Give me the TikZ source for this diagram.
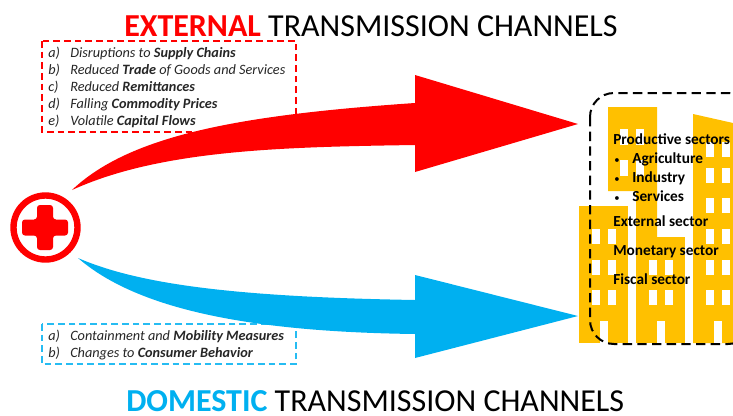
\documentclass[tikz,border=0pt]{standalone}
\usepackage{fontspec}
\setmainfont{Carlito}
\definecolor{bred}{RGB}{255,0,0}
\definecolor{bblue}{RGB}{0,176,240}
\definecolor{bgold}{RGB}{255,192,0}
\newcommand{\winrow}[3]{\foreach \wx in {#1} {\fill[white] (\wx,#2) rectangle ++(8,#3);}}
\tikzset{
  titletext/.style={anchor=base west,inner sep=0pt,font=\fontsize{24}{29}\selectfont},
  listtext/.style={anchor=base west,inner sep=0pt,font=\fontsize{10.7}{12}\selectfont\itshape,text=black!85},
  sectortext/.style={anchor=base west,inner sep=0pt,font=\fontsize{11.5}{13}\selectfont\bfseries},
  bullettext/.style={anchor=base west,inner sep=0pt,font=\fontsize{8}{10}\selectfont},
  dashbox/.style={line width=1.3pt,dash pattern=on 5pt off 3pt},
}
\begin{document}
\begin{tikzpicture}[x=0.75pt,y=-0.75pt]
\clip (0,0) rectangle (733,415);
\fill[white] (0,0) rectangle (733,415);
% titles
\node[titletext] (t1) at (124,36) {\textcolor{bred}{\textbf{EXTERNAL}} TRANSMISSION CHANNELS};
\node[titletext] (t2) at (126,411) {\textcolor{bblue}{\textbf{DOMESTIC}} TRANSMISSION CHANNELS};
% list boxes
\draw[bred,dashbox] (42,41) rectangle (296,132);
\draw[bblue!85!white,dashbox] (42,324) rectangle (296,364);
\foreach \n/\y/\l/\t in {
  a/57/a)/{Disruptions to \textbf{Supply Chains}},
  b/74/b)/{Reduced \textbf{Trade} of Goods and Services},
  c/91/c)/{Reduced \textbf{Remittances}},
  d/108/d)/{Falling \textbf{Commodity Prices}},
  e/125/e)/{Volatile \textbf{Capital Flows}}} {
  \node[listtext] (rl\n) at (48,\y) {\l};
  \node[listtext] (rt\n) at (70,\y) {\t};
}
\foreach \n/\y/\l/\t in {
  a/340/a)/{Containment and \textbf{Mobility Measures}},
  b/357/b)/{Changes to \textbf{Consumer Behavior}}} {
  \node[listtext] (bl\n) at (48,\y) {\l};
  \node[listtext] (bt\n) at (70,\y) {\t};
}
% red arrow
\fill[bred] (72,190) .. controls (130,135) and (240,115) .. (415,103)
  -- (415,75) -- (578,124) -- (415,172) -- (415,145)
  .. controls (280,147) and (160,150) .. (72,190) -- cycle;
% blue arrow
\fill[bblue] (78,258) .. controls (140,285) and (240,297) .. (415,300)
  -- (415,275) -- (578,316) -- (415,358) -- (415,334)
  .. controls (260,332) and (140,312) .. (78,258) -- cycle;
% medical symbol
\node[circle,draw=bred,line width=4.8pt,minimum size=48pt,inner sep=0pt] (med) at (45.5,227.5) {};
\fill[bred,rounded corners=2.2pt] (37,205) -- (53,205) -- (53,219.5) -- (68,219.5) -- (68,235.5) -- (53,235.5)
  -- (53,250) -- (37,250) -- (37,235.5) -- (22,235.5) -- (22,219.5) -- (37,219.5) -- cycle;
% buildings
\fill[bgold] (608,107) -- (657,107) -- (657,237) -- (636,237) -- (636,191) -- (608,191) -- cycle;
\winrow{620,636}{129}{16}
\winrow{620}{160}{16}
\winrow{636}{160}{16}
\fill[bgold] (579,206) rectangle (628,343);
\fill[bgold] (636,237) rectangle (685,343);
\fill[bgold] (693,114) -- (733,123) -- (733,343) -- (693,343) -- cycle;
\foreach \r in {229,260,290} {\winrow{592,608}{\r}{15}}
\fill[white] (600,321) rectangle (608,343);
\foreach \r in {260,290} {\winrow{649,665}{\r}{15}}
\fill[white] (657,321) rectangle (665,343);
\foreach \r in {142,168,198,229,260,290} {\winrow{706,722}{\r}{15}}
\fill[white] (714,321) rectangle (722,343);
% dashed frame
\draw[black,line width=1.5pt,dash pattern=on 7pt off 4pt,rounded corners=18pt] (590,93) rectangle (752,344);
% sector texts
\node[sectortext] (s1) at (613,144) {Productive sectors};
\node[bullettext] (b1) at (614,163) {•};
\node[sectortext] (s2) at (632,163) {Agriculture};
\node[bullettext] (b2) at (614,182) {•};
\node[sectortext] (s3) at (632,182) {Industry};
\node[bullettext] (b3) at (614,201) {•};
\node[sectortext] (s4) at (632,201) {Services};
\node[sectortext] (s5) at (613,226) {External sector};
\node[sectortext] (s6) at (613,255) {Monetary sector};
\node[sectortext] (s7) at (613,284) {Fiscal sector};
\end{tikzpicture}
\end{document}
